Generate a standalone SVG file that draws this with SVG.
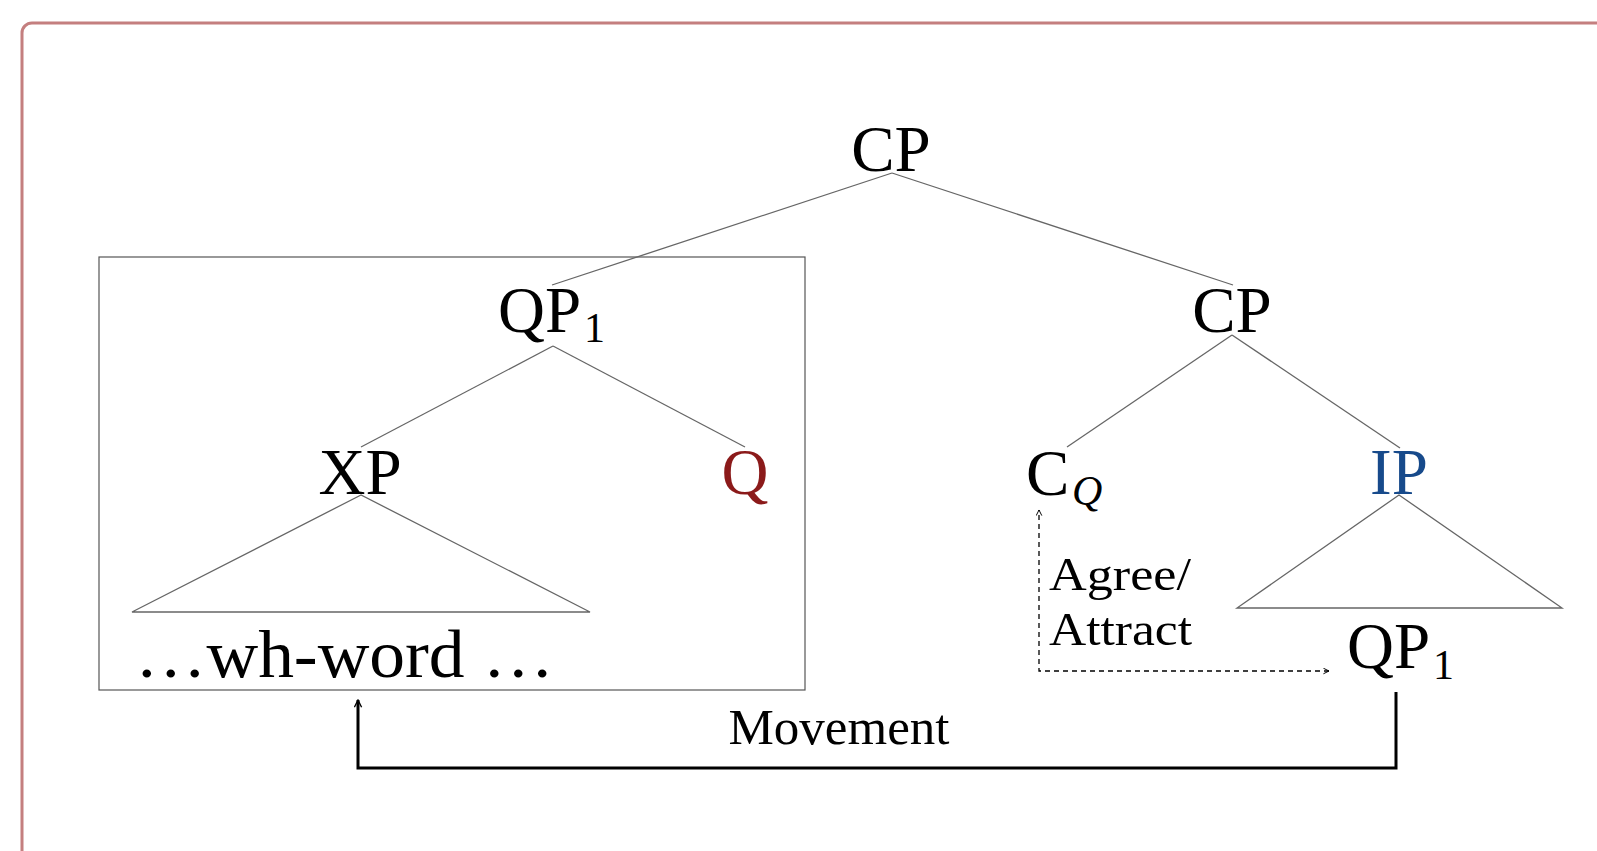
<svg xmlns="http://www.w3.org/2000/svg" width="1597" height="851" viewBox="0 0 1597 851">
<style>
.lbl{font-family:"Liberation Serif","Times New Roman",serif;font-size:65px;fill:#000}
.sub{font-family:"Liberation Serif","Times New Roman",serif;font-size:42px;fill:#000}
.txt{font-family:"Liberation Serif","Times New Roman",serif;fill:#000}
.edge{stroke:#666;stroke-width:1.3;fill:none}
.dash{stroke:#000;stroke-width:1.3;fill:none;stroke-dasharray:5 4}
.move{stroke:#000;stroke-width:3;fill:none}
</style>
<defs>
<marker id="openSmall" viewBox="0 0 10 10" refX="9" refY="5" markerWidth="7" markerHeight="7" markerUnits="userSpaceOnUse" orient="auto-start-reverse">
<path d="M1,1 L9,5 L1,9" fill="none" stroke="#000" stroke-width="1.4"/>
</marker>
<marker id="openMove" viewBox="0 0 10 10" refX="9" refY="5" markerWidth="9" markerHeight="9" markerUnits="userSpaceOnUse" orient="auto">
<path d="M1,1 L9,5 L1,9" fill="none" stroke="#000" stroke-width="1.5"/>
</marker>
</defs>
<rect x="22" y="23" width="1620" height="900" rx="10" fill="#fff" stroke="#c47f7f" stroke-width="3"/>
<g id="box">
<rect x="99" y="257" width="706" height="433" fill="none" stroke="#555" stroke-width="1.2"/>
</g>
<g id="connectors">
<line class="edge" x1="892" y1="173" x2="552" y2="285"/>
<line class="edge" x1="892" y1="173" x2="1233" y2="285"/>
<line class="edge" x1="553" y1="346" x2="361" y2="447"/>
<line class="edge" x1="553" y1="346" x2="745" y2="447"/>
<polygon class="edge" points="361,495 132,612 590,612"/>
<line class="edge" x1="1232" y1="335" x2="1067" y2="447"/>
<line class="edge" x1="1232" y1="335" x2="1400" y2="448"/>
<polygon class="edge" points="1399,495 1237,608 1562,608"/>
<path class="dash" d="M1329,671 L1039,671 L1039,510" marker-start="url(#openSmall)" marker-end="url(#openSmall)"/>
<path class="move" d="M1396,692 L1396,768 L358,768 L358,700" marker-end="url(#openMove)"/>
</g>
<g id="node-cp-top"><text class="lbl" x="891" y="171" text-anchor="middle">CP</text></g>
<g id="node-qp1-left"><text class="lbl" x="498" y="332">QP</text><text class="sub" x="584" y="342">1</text></g>
<g id="node-xp"><text class="lbl" x="360" y="494" text-anchor="middle">XP</text></g>
<g id="node-q"><text class="lbl" x="745" y="494" text-anchor="middle" style="fill:#8b1a1a">Q</text></g>
<g id="node-wh"><text class="txt" x="135" y="677" font-size="68" textLength="419" lengthAdjust="spacingAndGlyphs">…wh-word …</text></g>
<g id="node-cp-right"><text class="lbl" x="1232" y="332" text-anchor="middle">CP</text></g>
<g id="node-cq"><text class="lbl" x="1026" y="495">C</text><text class="sub" x="1072" y="505" font-style="italic" font-size="46">Q</text></g>
<g id="node-ip"><text class="lbl" x="1399" y="494" text-anchor="middle" style="fill:#174a8b">IP</text></g>
<g id="node-qp1-right"><text class="lbl" x="1347" y="668">QP</text><text class="sub" x="1433" y="679">1</text></g>
<g id="label-agree"><text class="txt" x="1049" y="590" font-size="46" textLength="142" lengthAdjust="spacingAndGlyphs">Agree/</text><text class="txt" x="1049" y="645" font-size="46" textLength="143" lengthAdjust="spacingAndGlyphs">Attract</text></g>
<g id="label-movement"><text class="txt" x="839" y="744" font-size="51" text-anchor="middle">Movement</text></g>
</svg>
